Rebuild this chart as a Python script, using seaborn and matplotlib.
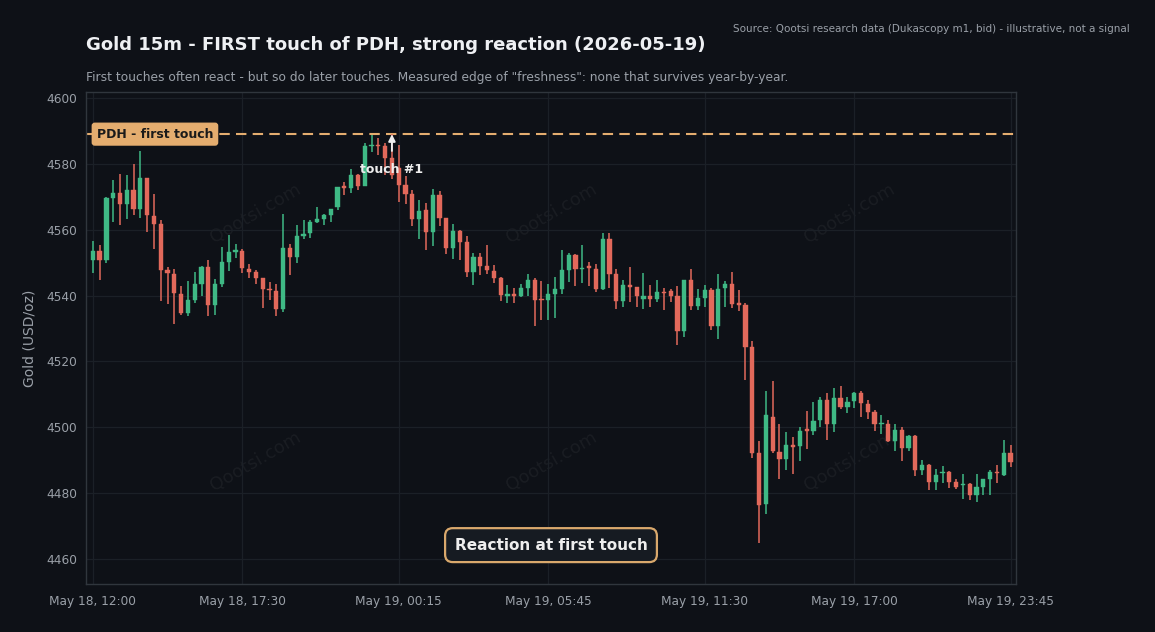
import matplotlib
matplotlib.use("Agg")
import matplotlib.pyplot as plt
import seaborn as sns
import numpy as np
import pandas as pd

# ---------------- data ----------------
opens = [4550.9, 4553.4, 4550.7, 4569.6, 4571.1, 4567.7, 4571.9, 4566.4, 4575.6, 4564.2,
         4561.6, 4547.7, 4546.5, 4540.4, 4534.7, 4538.6, 4543.6, 4548.7, 4537.2, 4543.4,
         4550.1, 4553.1, 4553.6, 4548.2, 4547.0, 4545.2, 4541.8, 4541.3, 4535.8, 4554.3,
         4551.7, 4558.1, 4559.0, 4562.3, 4563.1, 4564.3, 4566.9, 4573.1, 4572.8, 4576.5,
         4573.4, 4585.4, 4585.6, 4585.5, 4581.7, 4578.6, 4573.6, 4570.7, 4563.3, 4565.9,
         4559.3, 4570.6, 4563.6, 4554.4, 4559.5, 4556.3, 4547.1, 4551.7, 4549.1, 4547.5,
         4545.2, 4540.0, 4540.3, 4540.0, 4542.3, 4544.6, 4538.9, 4538.6, 4540.6, 4542.1,
         4547.7, 4552.2, 4548.0, 4548.6, 4548.2, 4542.1, 4557.3, 4546.4, 4538.3, 4543.1,
         4542.6, 4539.0, 4540.0, 4539.0, 4541.2, 4541.4, 4539.8, 4529.3, 4544.6, 4536.8,
         4539.3, 4541.8, 4530.7, 4542.3, 4543.4, 4537.5, 4537.2, 4524.4, 4492.3, 4476.8,
         4503.2, 4492.6, 4490.3, 4494.6, 4494.3, 4499.2, 4499.0, 4502.2, 4508.3, 4501.0,
         4508.8, 4506.1, 4508.0, 4510.3, 4507.0, 4504.7, 4500.9, 4501.0, 4495.9, 4499.2,
         4493.6, 4497.2, 4487.1, 4488.6, 4483.5, 4486.0, 4486.3, 4483.3, 4482.4, 4482.8,
         4479.5, 4482.0, 4484.2, 4486.3, 4485.6, 4492.3]
highs = [4556.5, 4555.3, 4569.9, 4575.0, 4576.9, 4576.5, 4579.8, 4584.0, 4575.6, 4570.9,
         4562.8, 4548.7, 4548.0, 4542.9, 4544.3, 4547.1, 4548.9, 4550.7, 4545.1, 4554.7,
         4558.3, 4555.6, 4554.0, 4549.5, 4547.7, 4545.2, 4544.0, 4543.4, 4564.9, 4555.6,
         4561.3, 4562.8, 4562.8, 4566.8, 4564.9, 4566.4, 4573.1, 4574.6, 4578.3, 4577.0,
         4586.4, 4588.6, 4587.8, 4586.3, 4589.1, 4585.6, 4576.2, 4572.1, 4569.1, 4568.2,
         4572.2, 4571.6, 4563.6, 4561.8, 4560.0, 4558.0, 4552.9, 4552.9, 4555.3, 4549.2,
         4545.7, 4543.1, 4542.3, 4543.6, 4546.5, 4545.2, 4544.3, 4543.4, 4545.5, 4553.7,
         4552.9, 4552.7, 4555.3, 4550.1, 4549.5, 4559.1, 4559.1, 4548.0, 4544.8, 4548.7,
         4542.6, 4546.9, 4543.1, 4544.6, 4542.3, 4541.9, 4542.8, 4544.6, 4548.0, 4542.1,
         4543.1, 4542.3, 4546.5, 4544.4, 4547.2, 4541.6, 4537.6, 4526.2, 4495.9, 4511.0,
         4514.0, 4501.0, 4498.5, 4496.9, 4500.2, 4505.0, 4507.6, 4509.3, 4510.3, 4512.0,
         4512.5, 4509.3, 4510.8, 4511.1, 4508.3, 4505.1, 4503.7, 4502.2, 4501.0, 4500.2,
         4497.7, 4497.5, 4490.1, 4488.8, 4487.4, 4488.3, 4486.6, 4484.3, 4485.8, 4483.0,
         4485.8, 4484.3, 4486.9, 4488.6, 4496.2, 4494.6]
lows = [4546.9, 4544.6, 4549.9, 4562.3, 4561.3, 4563.3, 4564.3, 4563.5, 4559.3, 4554.0,
        4538.4, 4537.4, 4531.5, 4534.1, 4533.8, 4537.8, 4539.9, 4533.8, 4534.1, 4542.6,
        4547.5, 4551.4, 4546.9, 4545.4, 4543.4, 4536.3, 4538.6, 4533.8, 4535.1, 4546.3,
        4549.9, 4557.1, 4557.5, 4562.0, 4561.3, 4562.3, 4565.9, 4570.4, 4571.1, 4571.9,
        4573.2, 4583.5, 4582.7, 4576.5, 4575.5, 4568.4, 4567.7, 4561.0, 4557.1, 4553.7,
        4554.9, 4561.0, 4552.5, 4551.0, 4550.7, 4545.7, 4543.2, 4546.1, 4546.5, 4543.8,
        4538.3, 4537.8, 4537.6, 4539.6, 4540.0, 4530.8, 4532.5, 4532.5, 4533.2, 4540.4,
        4544.1, 4542.9, 4543.8, 4542.9, 4541.1, 4541.6, 4542.3, 4535.9, 4536.6, 4538.1,
        4536.6, 4536.0, 4536.6, 4538.1, 4535.6, 4538.1, 4525.0, 4527.5, 4535.6, 4535.6,
        4536.6, 4529.5, 4526.8, 4536.6, 4536.1, 4535.3, 4514.3, 4490.8, 4465.0, 4473.7,
        4492.1, 4484.3, 4487.1, 4485.9, 4489.6, 4493.4, 4497.7, 4500.2, 4496.0, 4498.7,
        4505.5, 4504.4, 4505.8, 4503.2, 4502.5, 4498.9, 4498.0, 4495.5, 4492.9, 4489.8,
        4492.8, 4485.3, 4485.6, 4481.0, 4480.8, 4483.2, 4481.7, 4481.3, 4478.3, 4477.8,
        4477.2, 4479.3, 4479.5, 4483.0, 4485.3, 4487.8]
closes = [4553.4, 4550.7, 4569.6, 4571.1, 4567.7, 4571.9, 4566.4, 4575.6, 4564.3, 4561.6,
          4547.9, 4546.7, 4540.8, 4534.7, 4538.6, 4543.4, 4548.7, 4537.2, 4543.4, 4550.1,
          4553.1, 4553.7, 4548.4, 4547.0, 4545.3, 4542.0, 4541.6, 4535.8, 4554.3, 4551.7,
          4558.1, 4558.5, 4562.2, 4563.1, 4564.3, 4566.4, 4573.1, 4572.8, 4576.5, 4573.4,
          4585.4, 4585.8, 4585.4, 4581.7, 4576.6, 4573.6, 4570.7, 4563.3, 4565.7, 4559.3,
          4570.6, 4563.6, 4554.4, 4559.5, 4556.3, 4547.1, 4551.7, 4549.1, 4547.7, 4545.2,
          4540.1, 4540.4, 4540.0, 4542.3, 4544.6, 4538.6, 4538.6, 4540.6, 4542.0, 4547.7,
          4552.2, 4548.0, 4548.5, 4548.4, 4542.1, 4557.1, 4546.5, 4538.3, 4543.1, 4542.6,
          4539.8, 4540.0, 4539.0, 4541.2, 4540.7, 4539.8, 4529.3, 4544.6, 4536.8, 4539.1,
          4541.8, 4530.7, 4542.1, 4543.4, 4537.4, 4537.2, 4524.4, 4492.1, 4476.3, 4503.7,
          4492.8, 4490.3, 4494.6, 4494.1, 4499.0, 4499.0, 4502.0, 4508.3, 4501.0, 4508.8,
          4506.1, 4507.6, 4510.3, 4507.3, 4504.7, 4500.9, 4501.2, 4495.9, 4499.2, 4493.8,
          4497.2, 4487.1, 4488.4, 4483.5, 4485.6, 4486.3, 4483.5, 4482.0, 4482.8, 4479.5,
          4482.0, 4484.2, 4486.3, 4486.0, 4492.3, 4489.4]

tick_pos = [0, 22, 45, 67, 90, 112, 135]
tick_labels = ["May 18, 12:00", "May 18, 17:30", "May 19, 00:15", "May 19, 05:45",
               "May 19, 11:30", "May 19, 17:00", "May 19, 23:45"]
y_ticks = [4460, 4480, 4500, 4520, 4540, 4560, 4580, 4600]

pdh_level = 4589.0
touch_index = 44

title = "Gold 15m - FIRST touch of PDH, strong reaction (2026-05-19)"
subtitle = ('First touches often react - but so do later touches. Measured edge of '
            '"freshness": none that survives year-by-year.')
source = "Source: Qootsi research data (Dukascopy m1, bid) - illustrative, not a signal"

# ---------------- style ----------------
BG = "#0e1117"
AX_BG = "#0e1117"
SPINE = "#30363d"
GRID = "#1b2027"
TXT = "#9aa0a8"
GREEN = "#3fb985"
RED = "#e2695b"
GOLD = "#e4ad6f"

sns.set_theme(style="dark", rc={
    "figure.facecolor": BG, "axes.facecolor": AX_BG,
    "axes.edgecolor": SPINE, "grid.color": GRID,
    "xtick.color": TXT, "ytick.color": TXT,
    "axes.labelcolor": TXT, "text.color": TXT,
})
plt.rcParams["font.family"] = ["DejaVu Sans"]

df = pd.DataFrame({"open": opens, "high": highs, "low": lows, "close": closes})
df["idx"] = np.arange(len(df))
df["up"] = df["close"] >= df["open"]
df["color"] = np.where(df["up"], GREEN, RED)
df["bottom"] = df[["open", "close"]].min(axis=1)
df["height"] = (df["close"] - df["open"]).abs().clip(lower=0.45)

fig = plt.figure(figsize=(11.55, 6.32), dpi=100)
ax = fig.add_axes([86 / 1155, 1 - 584 / 632, 930 / 1155, 492 / 632])
ax.set_facecolor(AX_BG)

ax.grid(True, color=GRID, linewidth=0.9)
ax.set_axisbelow(True)

# wicks
ax.vlines(df["idx"], df["low"], df["high"], colors=df["color"], linewidth=1.1, zorder=2)
# bodies
ax.bar(df["idx"], df["height"], bottom=df["bottom"], width=0.62, color=df["color"],
       edgecolor=df["color"], linewidth=0.3, zorder=3)

ax.set_xlim(-1.0, 135.8)
ax.set_ylim(4452.4, 4601.8)
ax.set_yticks(y_ticks)
ax.set_xticks(tick_pos)
ax.set_xticklabels(tick_labels)
ax.tick_params(axis="both", labelsize=8.7, colors=TXT, length=3, width=0.8)
ax.tick_params(axis="x", pad=5)
ax.set_ylabel("Gold (USD/oz)", fontsize=10, color=TXT, labelpad=7)
for s in ax.spines.values():
    s.set_color(SPINE)
    s.set_linewidth(1.0)

# PDH line
ax.axhline(pdh_level, color=GOLD, linestyle=(0, (5, 3)), linewidth=1.5, zorder=1.5)
ax.text(0.0115, pdh_level, "PDH - first touch", transform=ax.get_yaxis_transform(),
        ha="left", va="center", fontsize=9, fontweight="bold", color="#1a1a1a",
        bbox=dict(boxstyle="round,pad=0.35,rounding_size=0.2", fc=GOLD, ec=GOLD), zorder=5)

# touch annotation
ax.annotate("touch #1", xy=(touch_index, pdh_level), xytext=(touch_index, 4578.4),
            ha="center", va="center", fontsize=9, fontweight="bold", color="#eeeeee",
            arrowprops=dict(arrowstyle="-|>", color="#eeeeee", lw=1.4,
                            shrinkA=6, shrinkB=0, mutation_scale=10), zorder=6)

# reaction box
ax.text(0.5, 0.079, "Reaction at first touch", transform=ax.transAxes,
        ha="center", va="center", fontsize=11, fontweight="bold", color="#eeeeee",
        bbox=dict(boxstyle="round,pad=0.62,rounding_size=0.5", fc="#161b22",
                  ec="#d9a86c", lw=1.6), zorder=6)

# watermarks
for wx in (0.182, 0.501, 0.821):
    for wy in (0.754, 0.248):
        ax.text(wx, wy, "Qootsi.com", transform=ax.transAxes, rotation=30,
                ha="center", va="center", fontsize=13, color="#ffffff", alpha=0.05,
                zorder=0.5)

# titles
fig.text(86 / 1155, 1 - 45 / 632, title, ha="left", va="center", fontsize=13,
         fontweight="bold", color="#eef0f3")
fig.text(86 / 1155, 1 - 78 / 632, subtitle, ha="left", va="center", fontsize=8.8,
         color=TXT)
fig.text(1130 / 1155, 1 - 29 / 632, source, ha="right", va="center", fontsize=7.5,
         color=TXT)

fig.savefig("out.png", dpi=100, facecolor=BG)
